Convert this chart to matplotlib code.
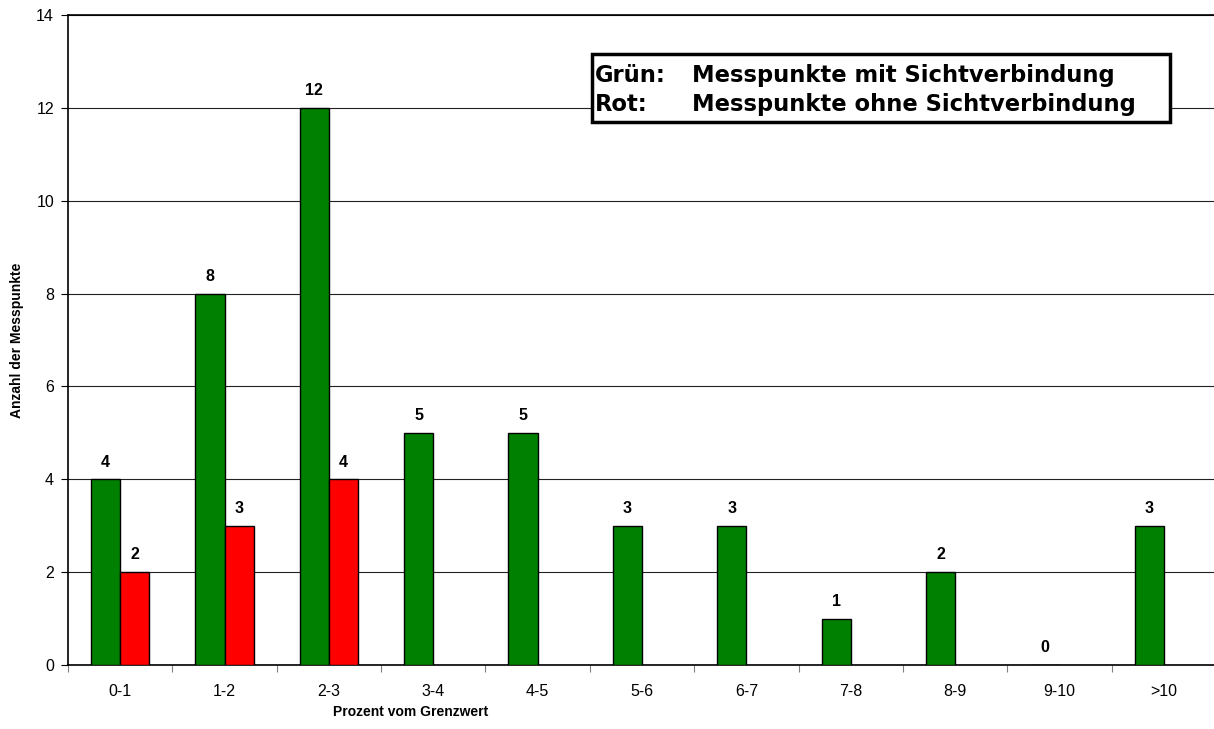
import matplotlib.pyplot as plt
import numpy as np

plt.rcParams['font.family'] = ['Liberation Sans', 'DejaVu Sans']

kategorien = ['0-1', '1-2', '2-3', '3-4', '4-5', '5-6', '6-7', '7-8', '8-9', '9-10', '>10']
gruen = [4, 8, 12, 5, 5, 3, 3, 1, 2, 0, 3]   # mit Sichtverbindung
rot = [2, 3, 4]                               # ohne Sichtverbindung

fig = plt.figure(figsize=(12.14, 7.29), dpi=100)
ax = fig.add_axes([68/1214, 1-665/729, 1148/1214, 650/729])

x = np.arange(len(kategorien))
w = 0.28
bg = ax.bar(x - w/2, gruen, w, color='#008000', edgecolor='black', linewidth=1, zorder=3)
br = ax.bar(x[:len(rot)] + w/2, rot, w, color='#ff0000', edgecolor='black', linewidth=1, zorder=3)

for b, v in zip(bg, gruen):
    ax.annotate(str(v), (b.get_x() + b.get_width()/2, v), xytext=(0, 7), textcoords='offset points',
                ha='center', va='bottom', fontsize=11.5, fontweight='bold')
for b, v in zip(br, rot):
    ax.annotate(str(v), (b.get_x() + b.get_width()/2, v), xytext=(0, 7), textcoords='offset points',
                ha='center', va='bottom', fontsize=11.5, fontweight='bold')

ax.set_xlim(-0.5, len(kategorien) - 0.5)
ax.set_ylim(0, 14)
ax.set_yticks(range(0, 15, 2))
ax.yaxis.grid(True, color='#222222', linewidth=0.8, zorder=0)
ax.set_axisbelow(True)

# Striche an den Kategoriegrenzen, Beschriftung in der Mitte
ax.set_xticks(np.arange(-0.5, len(kategorien), 1))
ax.set_xticklabels([])
ax.set_xticks(x, minor=True)
ax.set_xticklabels(kategorien, minor=True)
ax.tick_params(axis='x', which='minor', length=0, pad=14, labelsize=11.5)
ax.tick_params(axis='x', which='major', length=5, color='gray', direction='out')
ax.tick_params(axis='y', length=5, direction='out', labelsize=11.5, pad=5)

for s in ['left', 'bottom', 'top']:
    ax.spines[s].set_color('black')
    ax.spines[s].set_linewidth(1.2)
ax.spines['right'].set_visible(False)

fig.text(17/1214, 1-340/729, 'Anzahl der Messpunkte', rotation=90, ha='center', va='center',
         fontsize=10, fontweight='bold')
fig.text(411/1214, 1-712/729, 'Prozent vom Grenzwert', ha='center', va='center',
         fontsize=10, fontweight='bold')

# Textkasten mit Farberklaerung
box = plt.Rectangle((592/1214, 1-122/729), 578/1214, 68/729, transform=fig.transFigure,
                    facecolor='white', edgecolor='black', linewidth=2.5, zorder=5)
fig.patches.append(box)
for yy, a, b in [(82, 'Grün:', 'Messpunkte mit Sichtverbindung'),
                 (111, 'Rot:', 'Messpunkte ohne Sichtverbindung')]:
    fig.text(595/1214, 1-yy/729, a, ha='left', va='baseline', fontsize=16.3, fontweight='bold',
             family='DejaVu Sans', zorder=6)
    fig.text(692/1214, 1-yy/729, b, ha='left', va='baseline', fontsize=16.3, fontweight='bold',
             family='DejaVu Sans', zorder=6)

fig.savefig('out.png', dpi=100)
